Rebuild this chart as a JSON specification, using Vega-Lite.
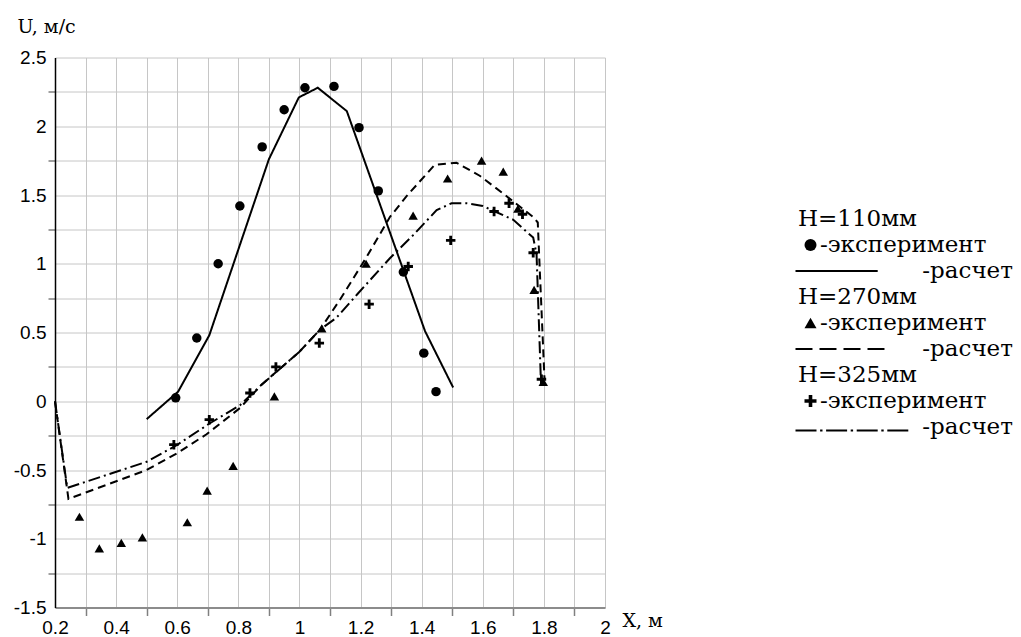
{
  "$schema": "https://vega.github.io/schema/vega-lite/v6.json",
  "autosize": {"type": "none"},
  "padding": {"left": 55, "top": 57.5, "right": 416, "bottom": 29.5},
  "width": 550,
  "height": 550,
  "background": "white",
  "config": {
    "view": {"stroke": null},
    "axis": {
      "grid": true,
      "gridColor": "#c6c6c6",
      "gridWidth": 1,
      "labelColor": "black",
      "labelFont": "Liberation Sans",
      "labelFontSize": 19,
      "labelOverlap": false,
      "labelFlush": false,
      "titleFont": "DejaVu Serif",
      "titleFontSize": 19,
      "titleFontWeight": "normal",
      "titleColor": "black",
      "titleAngle": 0,
      "titleAlign": "left",
      "titleBaseline": "middle",
      "tickColor": "#808080",
      "tickWidth": 1.5
    }
  },
  "datasets": {
    "points": [
      {"series": "H=110мм эксперимент", "x": 0.595, "y": 0.025},
      {"series": "H=110мм эксперимент", "x": 0.664, "y": 0.46},
      {"series": "H=110мм эксперимент", "x": 0.734, "y": 1.0},
      {"series": "H=110мм эксперимент", "x": 0.805, "y": 1.42},
      {"series": "H=110мм эксперимент", "x": 0.878, "y": 1.85},
      {"series": "H=110мм эксперимент", "x": 0.95, "y": 2.12},
      {"series": "H=110мм эксперимент", "x": 1.018, "y": 2.28},
      {"series": "H=110мм эксперимент", "x": 1.113, "y": 2.29},
      {"series": "H=110мм эксперимент", "x": 1.195, "y": 1.99},
      {"series": "H=110мм эксперимент", "x": 1.258, "y": 1.53},
      {"series": "H=110мм эксперимент", "x": 1.34, "y": 0.94},
      {"series": "H=110мм эксперимент", "x": 1.407, "y": 0.35},
      {"series": "H=110мм эксперимент", "x": 1.447, "y": 0.07},
      {"series": "H=270мм эксперимент", "x": 0.28, "y": -0.84},
      {"series": "H=270мм эксперимент", "x": 0.345, "y": -1.07},
      {"series": "H=270мм эксперимент", "x": 0.417, "y": -1.03},
      {"series": "H=270мм эксперимент", "x": 0.486, "y": -0.99},
      {"series": "H=270мм эксперимент", "x": 0.633, "y": -0.88},
      {"series": "H=270мм эксперимент", "x": 0.698, "y": -0.65},
      {"series": "H=270мм эксперимент", "x": 0.783, "y": -0.47},
      {"series": "H=270мм эксперимент", "x": 0.918, "y": 0.035},
      {"series": "H=270мм эксперимент", "x": 1.073, "y": 0.53},
      {"series": "H=270мм эксперимент", "x": 1.218, "y": 1.0},
      {"series": "H=270мм эксперимент", "x": 1.372, "y": 1.35},
      {"series": "H=270мм эксперимент", "x": 1.485, "y": 1.62},
      {"series": "H=270мм эксперимент", "x": 1.596, "y": 1.75},
      {"series": "H=270мм эксперимент", "x": 1.667, "y": 1.67},
      {"series": "H=270мм эксперимент", "x": 1.715, "y": 1.4},
      {"series": "H=270мм эксперимент", "x": 1.768, "y": 0.81},
      {"series": "H=270мм эксперимент", "x": 1.798, "y": 0.14},
      {"series": "H=325мм эксперимент", "x": 0.589, "y": -0.316},
      {"series": "H=325мм эксперимент", "x": 0.705, "y": -0.134},
      {"series": "H=325мм эксперимент", "x": 0.838, "y": 0.06},
      {"series": "H=325мм эксперимент", "x": 0.923, "y": 0.25},
      {"series": "H=325мм эксперимент", "x": 1.065, "y": 0.423},
      {"series": "H=325мм эксперимент", "x": 1.228, "y": 0.706},
      {"series": "H=325мм эксперимент", "x": 1.356, "y": 0.98},
      {"series": "H=325мм эксперимент", "x": 1.495, "y": 1.17},
      {"series": "H=325мм эксперимент", "x": 1.637, "y": 1.38},
      {"series": "H=325мм эксперимент", "x": 1.686, "y": 1.44},
      {"series": "H=325мм эксперимент", "x": 1.73, "y": 1.36},
      {"series": "H=325мм эксперимент", "x": 1.765, "y": 1.08},
      {"series": "H=325мм эксперимент", "x": 1.792, "y": 0.16}
    ],
    "lines": [
      {"series": "H=110мм расчет", "x": 0.5, "y": -0.13},
      {"series": "H=110мм расчет", "x": 0.603, "y": 0.07},
      {"series": "H=110мм расчет", "x": 0.705, "y": 0.48},
      {"series": "H=110мм расчет", "x": 0.9, "y": 1.76},
      {"series": "H=110мм расчет", "x": 0.998, "y": 2.21},
      {"series": "H=110мм расчет", "x": 1.06, "y": 2.28},
      {"series": "H=110мм расчет", "x": 1.155, "y": 2.11},
      {"series": "H=110мм расчет", "x": 1.411, "y": 0.51},
      {"series": "H=110мм расчет", "x": 1.503, "y": 0.1},
      {"series": "H=270мм расчет", "x": 0.2, "y": 0.0},
      {"series": "H=270мм расчет", "x": 0.244, "y": -0.71},
      {"series": "H=270мм расчет", "x": 0.5, "y": -0.5},
      {"series": "H=270мм расчет", "x": 0.598, "y": -0.38},
      {"series": "H=270мм расчет", "x": 0.696, "y": -0.24},
      {"series": "H=270мм расчет", "x": 0.805, "y": -0.05},
      {"series": "H=270мм расчет", "x": 0.876, "y": 0.12},
      {"series": "H=270мм расчет", "x": 1.0, "y": 0.36},
      {"series": "H=270мм расчет", "x": 1.067, "y": 0.52},
      {"series": "H=270мм расчет", "x": 1.133, "y": 0.74},
      {"series": "H=270мм расчет", "x": 1.22, "y": 1.05},
      {"series": "H=270мм расчет", "x": 1.296, "y": 1.34},
      {"series": "H=270мм расчет", "x": 1.35, "y": 1.49},
      {"series": "H=270мм расчет", "x": 1.443, "y": 1.72},
      {"series": "H=270мм расчет", "x": 1.514, "y": 1.735},
      {"series": "H=270мм расчет", "x": 1.59, "y": 1.64},
      {"series": "H=270мм расчет", "x": 1.667, "y": 1.51},
      {"series": "H=270мм расчет", "x": 1.765, "y": 1.34},
      {"series": "H=270мм расчет", "x": 1.78, "y": 1.3},
      {"series": "H=270мм расчет", "x": 1.787, "y": 0.93},
      {"series": "H=270мм расчет", "x": 1.802, "y": 0.16},
      {"series": "H=325мм расчет", "x": 0.2, "y": 0.0},
      {"series": "H=325мм расчет", "x": 0.24, "y": -0.63},
      {"series": "H=325мм расчет", "x": 0.5, "y": -0.44},
      {"series": "H=325мм расчет", "x": 0.598, "y": -0.32},
      {"series": "H=325мм расчет", "x": 0.707, "y": -0.16},
      {"series": "H=325мм расчет", "x": 0.805, "y": -0.03},
      {"series": "H=325мм расчет", "x": 0.876, "y": 0.12},
      {"series": "H=325мм расчет", "x": 1.0, "y": 0.36},
      {"series": "H=325мм расчет", "x": 1.067, "y": 0.52},
      {"series": "H=325мм расчет", "x": 1.12, "y": 0.605},
      {"series": "H=325мм расчет", "x": 1.19, "y": 0.78},
      {"series": "H=325мм расчет", "x": 1.296, "y": 1.04},
      {"series": "H=325мм расчет", "x": 1.373, "y": 1.21},
      {"series": "H=325мм расчет", "x": 1.449, "y": 1.39},
      {"series": "H=325мм расчет", "x": 1.498, "y": 1.44},
      {"series": "H=325мм расчет", "x": 1.547, "y": 1.44},
      {"series": "H=325мм расчет", "x": 1.6, "y": 1.42},
      {"series": "H=325мм расчет", "x": 1.7, "y": 1.32},
      {"series": "H=325мм расчет", "x": 1.765, "y": 1.19},
      {"series": "H=325мм расчет", "x": 1.776, "y": 1.07},
      {"series": "H=325мм расчет", "x": 1.79, "y": 0.16}
    ]
  },
  "encoding": {
    "x": {
      "field": "x",
      "type": "quantitative",
      "scale": {"domain": [0.2, 2.0], "nice": false, "zero": false},
      "axis": {
        "title": "X, м",
        "titleX": 567,
        "titleY": 13,
        "values": [0.2, 0.3, 0.4, 0.5, 0.6, 0.7, 0.8, 0.9, 1.0, 1.1, 1.2, 1.3, 1.4, 1.5, 1.6, 1.7, 1.8, 1.9, 2.0],
        "labelExpr": "round(datum.value*10) % 2 == 0 ? format(datum.value, '~g') : ''",
        "labelPadding": 3,
        "tickSize": 8,
        "tickOpacity": {"condition": {"test": "round(datum.value*10) % 2 != 0", "value": 1}, "value": 0},
        "domainColor": "#8c8c8c",
        "domainWidth": 2
      }
    },
    "y": {
      "field": "y",
      "type": "quantitative",
      "scale": {"domain": [-1.5, 2.5], "nice": false, "zero": false},
      "axis": {
        "title": "U, м/с",
        "titleX": -38,
        "titleY": -31,
        "values": [-1.5, -1.25, -1.0, -0.75, -0.5, -0.25, 0, 0.25, 0.5, 0.75, 1.0, 1.25, 1.5, 1.75, 2.0, 2.25, 2.5],
        "labelExpr": "round(datum.value*4) % 2 == 0 ? (datum.value < 0 ? '-' : '') + format(abs(datum.value), '~g') : ''",
        "labelPadding": 2,
        "tickSize": 7,
        "tickOpacity": {"condition": {"test": "round(datum.value*4) % 2 != 0", "value": 1}, "value": 0},
        "domainColor": "black",
        "domainWidth": 1.5
      }
    }
  },
  "layer": [
    {
      "data": {"name": "lines"},
      "mark": {"type": "line", "color": "black", "strokeWidth": 2},
      "encoding": {
        "detail": {"field": "series"},
        "strokeDash": {
          "field": "series",
          "type": "nominal",
          "scale": {
            "domain": ["H=110мм расчет", "H=270мм расчет", "H=325мм расчет"],
            "range": [[1, 0], [8, 5], [12, 4, 2, 4]]
          },
          "legend": null
        }
      }
    },
    {
      "data": {"name": "points"},
      "mark": {"type": "point", "filled": true, "color": "black", "opacity": 1, "size": 90},
      "encoding": {
        "shape": {
          "field": "series",
          "type": "nominal",
          "scale": {
            "domain": ["H=110мм", "H=110мм эксперимент", "H=110мм расчет", "H=270мм", "H=270мм эксперимент", "H=270мм расчет", "H=325мм", "H=325мм эксперимент", "H=325мм расчет"],
            "range": [
              "M0,0",
              "circle",
              "M-2.5,-0.17H11.2V0.17H-2.5Z",
              "M0,0",
              "triangle-up",
              "M-2.5,-0.17H0.33V0.17H-2.5ZM1.5,-0.17H4.33V0.17H1.5ZM5.5,-0.17H8.33V0.17H5.5ZM9.5,-0.17H12.33V0.17H9.5Z",
              "M0,0",
              "M-1,-0.3H-0.3V-1H0.3V-0.3H1V0.3H0.3V1H-0.3V0.3H-1Z",
              "M-2.5,0.43H1.0V0.77H-2.5ZM1.6,0.43H2.0V0.77H1.6ZM2.6,0.43H6.1V0.77H2.6ZM6.7,0.43H7.1V0.77H6.7ZM7.7,0.43H11.2V0.77H7.7ZM11.8,0.43H12.2V0.77H11.8ZM12.8,0.43H16.3V0.77H12.8Z"
            ]
          },
          "legend": {
            "orient": "none",
            "legendX": 741,
            "legendY": 150,
            "title": null,
            "padding": 0,
            "labelExpr": "indexof(datum.label, 'эксперимент') >= 0 ? '\u200b\u00a0\u00a0\u00a0-эксперимент' : indexof(datum.label, 'расчет') >= 0 ? '\u200b\u00a0\u00a0\u00a0\u00a0\u00a0\u00a0\u00a0\u00a0\u00a0\u00a0\u00a0\u00a0\u00a0\u00a0\u00a0\u00a0\u00a0-расчет' : datum.label",
            "labelFont": "DejaVu Serif",
            "labelFontSize": 23,
            "labelColor": "black",
            "labelLimit": 400,
            "labelOffset": -24,
            "symbolOffset": 3,
            "symbolSize": 144,
            "symbolFillColor": "black",
            "symbolStrokeColor": "black",
            "symbolStrokeWidth": 0,
            "symbolOpacity": 1,
            "rowPadding": 2
          }
        }
      }
    }
  ]
}
